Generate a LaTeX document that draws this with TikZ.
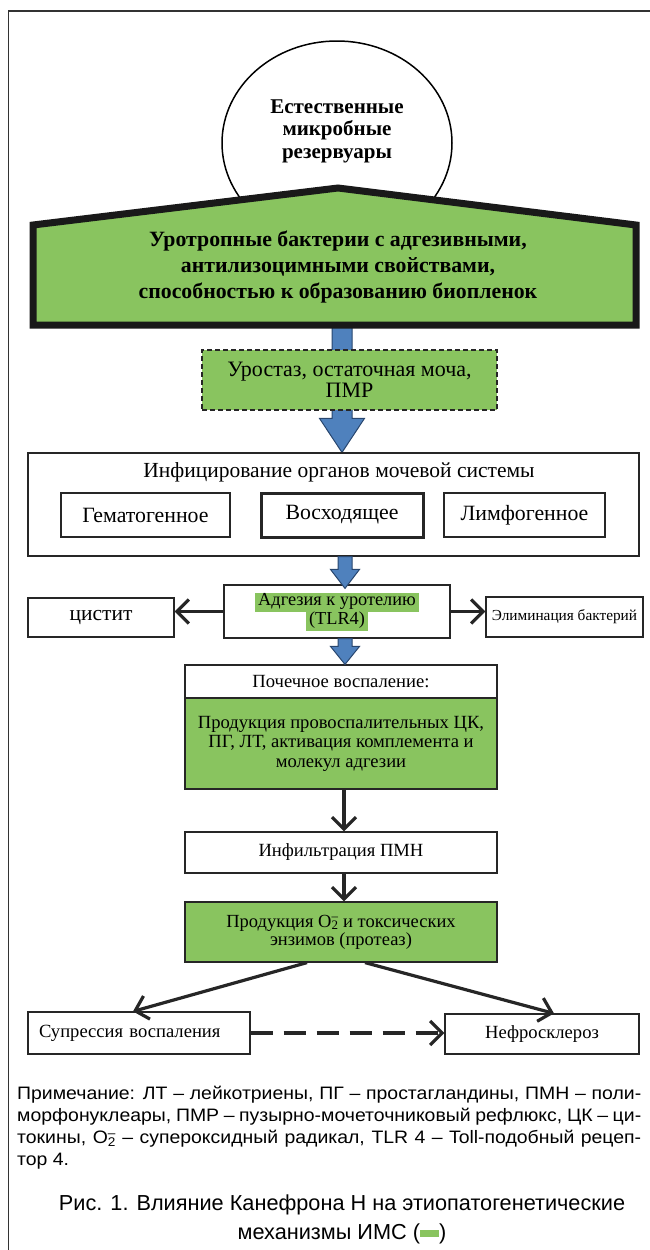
\documentclass[tikz,border=0pt]{standalone}
\usepackage{fontspec}
\setmainfont{Liberation Serif}
\newfontfamily\notefont{Liberation Sans}
\newfontfamily\notewide{Liberation Sans}[FakeStretch=1.08]
\usetikzlibrary{shapes.geometric,arrows.meta,backgrounds,calc}
\definecolor{grn}{RGB}{137,196,95}
\definecolor{blu}{RGB}{79,129,189}
\definecolor{bluline}{RGB}{40,70,110}
\setlength{\fboxsep}{0pt}
\newcommand\fatarrow[5]{%
  \filldraw[fill=blu,draw=bluline,line width=1pt] let \p1=(#1), \p2=(#2) in
  (\x1-#3,\y1) -- (\x1-#3,\y2+#5) -- (\x1-#4,\y2+#5) -- (\x1,\y2) --
  (\x1+#4,\y2+#5) -- (\x1+#3,\y2+#5) -- (\x1+#3,\y1) -- cycle;}
\begin{document}
\begin{tikzpicture}[x=1pt,y=-1pt,
  box/.style={draw=black!85,line width=1.2pt,rectangle,inner sep=0pt,align=center},
  blk/.style={-{Straight Barb[length=12pt,width=24pt]},line width=3.2pt,black!85},
  f22/.style={font=\fontsize{21.8}{22}\selectfont},
  f21/.style={font=\fontsize{21.5}{22}\selectfont},
  f18/.style={font=\fontsize{18.6}{19.5}\selectfont}]
\useasboundingbox (0,0) rectangle (650,1250);
% frame
\draw[line width=1.5pt,black!80] (650,11) -- (8.5,11) -- (8.5,1250);
% circle
\node[ellipse,draw,line width=1.5pt,minimum width=230pt,minimum height=204pt,inner sep=0pt] (circ) at (337,143) {};
\node[font=\bfseries\fontsize{21}{22.5}\selectfont,align=center] (circt) at (337,131) {Естественные\\микробные\\резервуары};
% pentagon
\filldraw[fill=grn,draw=black!90,line width=7pt,line join=miter] (33,325) -- (33,225) -- (338,188) -- (636,225) -- (636,325) -- cycle;
\node[font=\bfseries\fontsize{21.8}{26}\selectfont,align=center] (bact) at (338,267) {Уротропные бактерии с адгезивными,\\антилизоцимными свойствами,\\способностью к образованию биопленок};
\coordinate (bb) at (342,325);
% dashed box
\node[box,font=\fontsize{22}{20.5}\selectfont,dash pattern=on 5pt off 3pt,fill=grn,minimum width=295pt,minimum height=60pt] (uro) at (349.5,380) {Уростаз, остаточная моча,\\ПМР};
% infection
\node[box,minimum width=611pt,minimum height=103pt] (inf) at (333.5,504.5) {};
\node[f21] (inft) at (339,472) {Инфицирование органов мочевой системы};
\node[box,f22,minimum width=169pt,minimum height=44pt] (gem) at (145.5,515) {Гематогенное};
\node[box,f22,line width=3pt,minimum width=162pt,minimum height=44pt] (vos) at (342,515) {Восходящее};
\node[box,f22,minimum width=161pt,minimum height=44pt] (lim) at (524.5,515) {Лимфогенное};
% adhesion row
\node[box,font=\fontsize{18.3}{19}\selectfont,minimum width=226pt,minimum height=53pt] (adh) at (337,611.5) {\colorbox{grn}{\strut\,Адгезия к уротелию\,}\\\colorbox{grn}{\strut\,(TLR4)\,}};
\node[box,f21,minimum width=146pt,minimum height=39pt] (cys) at (101,617.5) {цистит};
\node[box,font=\fontsize{15.3}{16}\selectfont,minimum width=157pt,minimum height=40pt] (elim) at (564.5,617) {Элиминация бактерий};
% kidney
\node[box,f18,minimum width=312pt,minimum height=33pt] (kidh) at (341,681.5) {Почечное воспаление:};
\node[box,f18,fill=grn,minimum width=312pt,minimum height=91pt] (kidg) at (341,743.5) {Продукция провоспалительных ЦК,\\ПГ, ЛТ, активация комплемента и\\молекул адгезии};
\node[box,f18,minimum width=312pt,minimum height=41pt] (infil) at (341,852.5) {Инфильтрация ПМН};
\node[box,font=\fontsize{18.5}{18}\selectfont,fill=grn,minimum width=312pt,minimum height=60pt] (prod) at (341,932) {Продукция O\makebox[0pt][l]{\textsuperscript{--}}\textsubscript{2} и токсических\\энзимов (протеаз)};
\node[box,f18,minimum height=42pt,text width=200pt,inner xsep=11pt,align=left] (supp) at (139,1033) {Супрессия воспаления};
\node[box,f18,minimum width=194pt,minimum height=40pt] (nef) at (542,1034) {Нефросклероз};
% blue arrows
\begin{scope}[on background layer]
\fatarrow{bb}{inf.north}{10pt}{22.5pt}{34pt}
\end{scope}
\fatarrow{[xshift=11.5pt]inf.south}{[yshift=-4pt]adh.north}{7pt}{14.5pt}{19pt}
\fatarrow{[xshift=8pt]adh.south}{kidh.north}{7pt}{14.5pt}{18pt}
% black arrows
\draw[blk] (adh.west) -- (adh.west -| cys.east);
\draw[blk] (adh.east) -- (adh.east -| elim.west);
\draw[blk] ([xshift=3pt]kidg.south) -- ([xshift=3pt]infil.north);
\draw[blk] ([xshift=3pt]infil.south) -- ([xshift=3pt]prod.north);
\draw[blk] ([xshift=-34pt]prod.south) -- ([xshift=-6pt]supp.north);
\draw[blk] ([xshift=24pt]prod.south) -- ([xshift=12pt]nef.north);
\draw[blk,dash pattern=on 22pt off 11pt] (supp.east) -- (supp.east -| nef.west);
% notes
\node[anchor=west,font=\notewide\fontsize{18}{22}\selectfont,align=left,inner sep=0pt] (note) at (17,1128) {\hbox to 624pt{Примечание: ЛТ – лейкотриены, ПГ – простагландины, ПМН – поли-}\\
\hbox to 624pt{морфонуклеары, ПМР – пузырно-мочеточниковый рефлюкс, ЦК – ци-}\\
\hbox to 624pt{токины, O\makebox[0pt][l]{\textsuperscript{–}}\textsubscript{2} – супероксидный радикал, TLR 4 – Toll-подобный рецеп-}\\
тор 4.};
\node[font=\notefont\fontsize{21.7}{29}\selectfont,align=center] (cap) at (342,1219.5) {Рис. 1. Влияние Канефрона Н на этиопатогенетические\\механизмы ИМС (\textcolor{grn}{\rule[0.12em]{19pt}{7pt}})};
\end{tikzpicture}
\end{document}
